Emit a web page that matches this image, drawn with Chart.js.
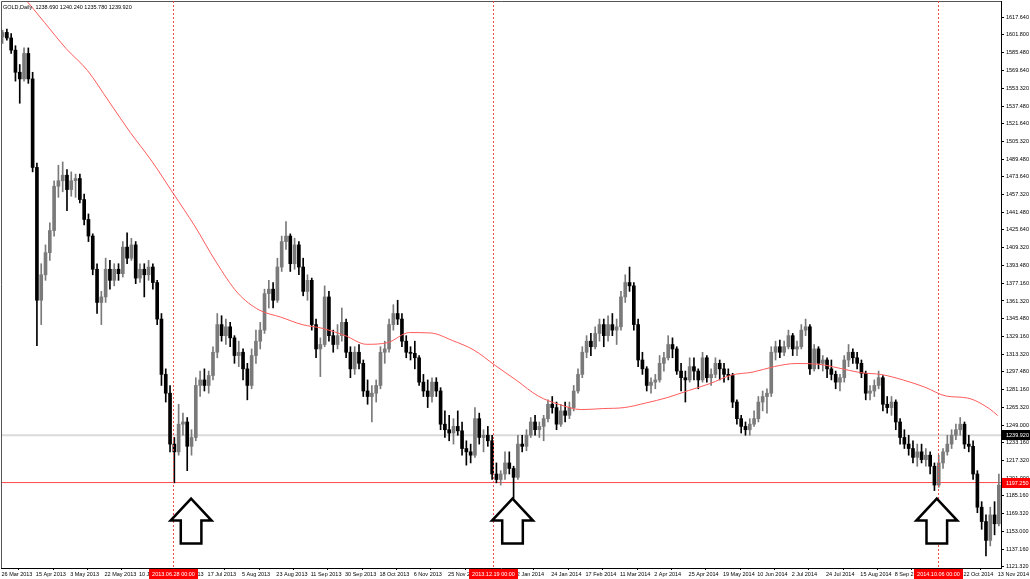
<!DOCTYPE html>
<html>
<head>
<meta charset="utf-8">
<script src="https://cdn.jsdelivr.net/npm/chart.js@4.4.1/dist/chart.umd.min.js"></script>
<style>
  html, body { margin: 0; padding: 0; background: #fff; }
  #wrap { width: 1030px; height: 579px; }
</style>
</head>
<body>
<div id="wrap"><canvas id="chart" width="1030" height="579"></canvas></div>
<script>
// GOLD daily, 26 Mar 2013 - mid Nov 2014. One candle here = two trading days: [open, high, low, close]
const ohlc = [
  [1600,1606,1594,1604], [1604,1607,1597,1599], [1599,1603,1585,1588], [1588,1592,1560,1568],
  [1568,1575,1540,1562], [1562,1590,1560,1585], [1585,1590,1558,1562], [1562,1568,1478,1482],
  [1482,1486,1321,1362], [1362,1395,1340,1385], [1385,1412,1380,1405], [1405,1432,1398,1425],
  [1425,1470,1420,1465], [1465,1484,1455,1470], [1470,1487,1460,1475], [1475,1480,1443,1462],
  [1462,1478,1456,1470], [1470,1476,1455,1472], [1472,1476,1450,1453], [1453,1458,1430,1435],
  [1435,1440,1415,1420], [1420,1422,1385,1390], [1390,1395,1350,1360], [1360,1370,1340,1365],
  [1365,1400,1360,1390], [1390,1398,1372,1380], [1380,1395,1375,1390], [1390,1395,1380,1386],
  [1386,1415,1383,1410], [1410,1423,1395,1400], [1400,1418,1398,1412], [1412,1415,1377,1382],
  [1382,1395,1378,1390], [1390,1395,1365,1385], [1385,1398,1380,1392], [1392,1395,1372,1378],
  [1378,1380,1340,1345], [1345,1350,1285,1295], [1295,1300,1270,1278], [1278,1285,1225,1232],
  [1232,1238,1197,1225], [1225,1268,1222,1250], [1250,1260,1240,1252], [1252,1256,1208,1230],
  [1230,1245,1222,1238], [1238,1292,1235,1285], [1285,1298,1275,1290], [1290,1300,1280,1285],
  [1285,1298,1278,1294], [1294,1320,1290,1315], [1315,1350,1310,1340], [1340,1348,1325,1330],
  [1330,1345,1322,1338], [1338,1342,1320,1328], [1328,1330,1305,1312], [1312,1325,1302,1315],
  [1315,1318,1290,1300], [1300,1305,1272,1285], [1285,1318,1282,1312], [1312,1335,1305,1325],
  [1325,1342,1318,1335], [1335,1372,1332,1368], [1368,1380,1355,1372], [1372,1378,1355,1362],
  [1362,1400,1360,1392], [1392,1420,1388,1415], [1415,1433,1408,1420], [1420,1422,1388,1395],
  [1395,1418,1390,1412], [1412,1415,1385,1392], [1392,1400,1366,1370], [1370,1385,1362,1380],
  [1380,1382,1335,1340], [1340,1345,1310,1318], [1318,1328,1293,1322], [1322,1375,1320,1365],
  [1365,1370,1325,1330], [1330,1335,1315,1322], [1322,1340,1318,1330], [1330,1355,1325,1342],
  [1342,1345,1310,1315], [1315,1320,1292,1300], [1300,1320,1295,1315], [1315,1322,1300,1305],
  [1305,1308,1275,1280], [1280,1290,1268,1275], [1275,1285,1252,1278], [1278,1290,1270,1285],
  [1285,1320,1282,1315], [1315,1325,1305,1318], [1318,1345,1315,1340], [1340,1358,1335,1350],
  [1350,1362,1340,1345], [1345,1350,1320,1325], [1325,1330,1310,1315], [1315,1320,1308,1314],
  [1314,1325,1300,1310], [1310,1312,1285,1288], [1288,1295,1275,1280], [1280,1290,1265,1275],
  [1275,1292,1270,1288], [1288,1292,1275,1280], [1280,1283,1245,1250], [1250,1262,1238,1245],
  [1245,1258,1235,1242], [1242,1255,1232,1248], [1248,1262,1240,1244], [1244,1252,1222,1228],
  [1228,1235,1213,1225], [1225,1232,1215,1222], [1222,1265,1220,1255], [1255,1260,1232,1238],
  [1238,1245,1225,1240], [1240,1248,1230,1235], [1235,1240,1200,1205], [1205,1215,1197,1200],
  [1200,1208,1195,1205], [1205,1225,1200,1215], [1215,1225,1205,1210], [1210,1212,1183,1202],
  [1202,1240,1200,1232], [1232,1240,1225,1230], [1230,1245,1226,1240], [1240,1256,1238,1252],
  [1252,1258,1240,1245], [1245,1252,1238,1248], [1248,1258,1235,1255], [1255,1272,1252,1268],
  [1268,1275,1260,1265], [1265,1270,1245,1250], [1250,1268,1248,1262], [1262,1270,1252,1258],
  [1258,1270,1255,1265], [1265,1285,1262,1280], [1280,1300,1278,1295], [1295,1320,1292,1315],
  [1315,1330,1310,1325], [1325,1332,1312,1320], [1320,1338,1318,1332], [1332,1345,1325,1340],
  [1340,1345,1320,1330], [1330,1348,1325,1340], [1340,1350,1330,1335], [1335,1345,1322,1338],
  [1338,1370,1335,1365], [1365,1385,1360,1378], [1378,1392,1370,1375], [1375,1378,1335,1340],
  [1340,1345,1302,1308], [1308,1315,1295,1300], [1300,1302,1280,1285], [1285,1292,1278,1288],
  [1288,1295,1282,1290], [1290,1312,1288,1305], [1305,1315,1298,1310], [1310,1330,1308,1322],
  [1322,1328,1310,1318], [1318,1320,1295,1298], [1298,1305,1280,1292], [1292,1298,1270,1290],
  [1290,1310,1288,1302], [1302,1310,1290,1298], [1298,1300,1282,1290], [1290,1315,1288,1310],
  [1310,1312,1288,1292], [1292,1300,1285,1295], [1295,1310,1292,1305], [1305,1308,1290,1300],
  [1300,1305,1288,1295], [1295,1300,1290,1294], [1294,1296,1265,1270], [1270,1272,1250,1255],
  [1255,1258,1242,1248], [1248,1252,1240,1245], [1245,1255,1240,1250], [1250,1262,1248,1255],
  [1255,1275,1252,1270], [1270,1280,1262,1275], [1275,1282,1260,1278], [1278,1320,1275,1315],
  [1315,1325,1308,1320], [1320,1326,1310,1315], [1315,1325,1312,1320], [1320,1335,1318,1330],
  [1330,1332,1312,1318], [1318,1325,1312,1320], [1320,1340,1318,1335], [1335,1345,1330,1338],
  [1338,1340,1295,1300], [1300,1322,1298,1318], [1318,1320,1300,1305], [1305,1312,1298,1308],
  [1308,1310,1292,1300], [1300,1308,1290,1295], [1295,1298,1282,1288], [1288,1295,1280,1292],
  [1292,1312,1288,1308], [1308,1322,1302,1315], [1315,1318,1305,1310], [1310,1315,1300,1305],
  [1305,1308,1292,1296], [1296,1298,1272,1278], [1278,1285,1272,1280], [1280,1290,1275,1285],
  [1285,1298,1282,1292], [1292,1294,1262,1268], [1268,1275,1260,1265], [1265,1275,1258,1270],
  [1270,1272,1245,1252], [1252,1255,1232,1238], [1238,1245,1228,1232], [1232,1240,1222,1228],
  [1228,1235,1215,1220], [1220,1232,1212,1225], [1225,1232,1215,1218], [1218,1228,1212,1222],
  [1222,1225,1205,1212], [1212,1215,1190,1195], [1195,1222,1193,1215], [1215,1228,1210,1225],
  [1225,1240,1222,1232], [1232,1245,1228,1240], [1240,1250,1236,1245], [1245,1256,1240,1250],
  [1250,1252,1228,1232], [1232,1240,1225,1230], [1230,1235,1200,1205], [1205,1208,1170,1175],
  [1175,1180,1155,1162], [1162,1168,1131,1145], [1145,1175,1140,1168], [1168,1180,1150,1160],
  [1160,1205,1158,1195]
];

// 200-day moving average, read every 10 daily bars
const maIndex = [0,10,20,30,40,50,60,70,80,90,100,110,120,130,140,150,160,170,180,190,200,210,220,230,
  240,250,260,270,280,290,300,310,320,330,340,350,360,370,380,390,400,410,420,430,440,450,460,464];
const maValues = [1659.2,1636.6,1613.1,1589.6,1569.7,1541.7,1513.6,1487.7,1458.5,1429.1,1396.4,1368.6,
  1353.2,1346.8,1340.0,1336.4,1330.1,1322.2,1323.8,1332.8,1332.4,1325.6,1317.0,1303.0,
  1289.4,1275.4,1267.7,1263.2,1264.1,1265.0,1269.1,1274.0,1280.4,1286.7,1294.4,1297.1,
  1302.1,1304.8,1304.3,1300.7,1296.6,1294.8,1289.9,1283.5,1275.4,1273.6,1264.1,1257.8];

const yTicks = [1617.64,1601.80,1585.48,1569.64,1553.32,1537.48,1521.64,1505.32,1489.48,1473.64,
  1457.32,1441.48,1425.64,1409.32,1393.48,1377.16,1361.32,1345.48,1329.16,1313.32,1297.48,
  1281.16,1265.32,1249.00,1233.16,1217.32,1201.00,1185.16,1169.32,1153.00,1137.16,1121.32];

// one label every 16 daily bars
const xTickLabels = ['26 Mar 2013','15 Apr 2013','3 May 2013','22 May 2013','10 Jun 2013','28 Jun 2013',
  '17 Jul 2013','5 Aug 2013','23 Aug 2013','11 Sep 2013','30 Sep 2013','18 Oct 2013','6 Nov 2013',
  '25 Nov 2013','13 Dec 2013','2 Jan 2014','24 Jan 2014','17 Feb 2014','11 Mar 2014','2 Apr 2014',
  '25 Apr 2014','19 May 2014','10 Jun 2014','2 Jul 2014','24 Jul 2014','15 Aug 2014','8 Sep 2014',
  '30 Sep 2014','22 Oct 2014','13 Nov 2014'];

const markerIndex = [80, 229, 436];
const markerLabels = ['2013.06.28 00:00', '2013.12.19 00:00', '2014.10.06 00:00'];
const arrowIndex = [88.3, 238, 435.6];
const arrowTipPrice = 1182.8;

const supportLevel = 1197.25;
const lastPrice = 1239.92;
const headerTitle = 'GOLD,Daily';
const headerValues = [1238.69, 1240.24, 1235.78, 1239.92];

const FONT = "'Liberation Sans', Arial, sans-serif";
const FONT_SIZE = 5.5;
const UP = '#7a7a7a';
const DOWN = '#000000';

const X_MIN = -0.23, X_MAX = 465.5;
const barX = ohlc.map((_, k) => 2 * k + 0.5);
const barColor = ohlc.map(r => (r[3] >= r[0] ? UP : DOWN));

const overlay = {
  id: 'overlay',
  afterDraw(chart) {
    const { ctx, chartArea: area, scales: { x, y } } = chart;
    ctx.save();

    // frame
    ctx.strokeStyle = '#555';
    ctx.lineWidth = 1;
    ctx.beginPath();
    ctx.moveTo(area.left + 0.5, area.bottom);
    ctx.lineTo(area.left + 0.5, area.top + 0.5);
    ctx.lineTo(area.right, area.top + 0.5);
    ctx.stroke();

    // vertical time markers
    ctx.setLineDash([2, 2]);
    ctx.strokeStyle = '#e85050';
    markerIndex.forEach(i => {
      const px = Math.round(x.getPixelForValue(i)) + 0.5;
      ctx.beginPath();
      ctx.moveTo(px, area.top);
      ctx.lineTo(px, area.bottom);
      ctx.stroke();
    });
    ctx.setLineDash([]);

    // up arrows
    ctx.lineWidth = 2.5;
    ctx.lineJoin = 'miter';
    ctx.strokeStyle = '#000';
    ctx.fillStyle = '#fff';
    arrowIndex.forEach(i => {
      const cx = x.getPixelForValue(i);
      const ty = y.getPixelForValue(arrowTipPrice);
      ctx.beginPath();
      ctx.moveTo(cx, ty);
      ctx.lineTo(cx + 20.5, ty + 22);
      ctx.lineTo(cx + 10.3, ty + 22);
      ctx.lineTo(cx + 10.3, ty + 45);
      ctx.lineTo(cx - 10.3, ty + 45);
      ctx.lineTo(cx - 10.3, ty + 22);
      ctx.lineTo(cx - 20.5, ty + 22);
      ctx.closePath();
      ctx.fill();
      ctx.stroke();
    });

    ctx.font = FONT_SIZE + 'px ' + FONT;
    ctx.textBaseline = 'middle';

    // header
    ctx.fillStyle = '#000';
    ctx.textAlign = 'left';
    ctx.fillText(headerTitle + '  ' + headerValues.map(v => v.toFixed(3)).join(' '), 3, 7);

    // price tags on the right axis
    const tag = (value, bg) => {
      const py = Math.round(y.getPixelForValue(value));
      ctx.fillStyle = bg;
      ctx.fillRect(area.right + 1, py - 5, 29, 10);
      ctx.fillStyle = '#fff';
      ctx.fillText(value.toFixed(3), area.right + 5, py + 0.5);
    };
    tag(lastPrice, '#000');
    tag(supportLevel, '#ff0000');

    // time tags on the bottom axis
    ctx.textAlign = 'center';
    markerIndex.forEach((i, n) => {
      const px = Math.round(x.getPixelForValue(i)) + 0.5;
      const w = ctx.measureText(markerLabels[n]).width + 6;
      ctx.fillStyle = '#ff0000';
      ctx.fillRect(Math.round(px - w / 2), area.bottom + 1, Math.round(w), 10);
      ctx.fillStyle = '#fff';
      ctx.fillText(markerLabels[n], px, area.bottom + 6);
    });
    ctx.restore();
  }
};

new Chart(document.getElementById('chart'), {
  type: 'bar',
  data: {
    datasets: [
      {
        type: 'line', order: 1,
        data: maIndex.map((v, i) => ({ x: v, y: maValues[i] })),
        borderColor: '#ff5a5a', borderWidth: 1, pointRadius: 0,
        cubicInterpolationMode: 'monotone'
      },
      {
        type: 'bar', order: 2,
        data: ohlc.map((r, k) => ({ x: barX[k], y: [r[0], r[3]] })),
        backgroundColor: barColor, borderWidth: 0,
        barThickness: 3, grouped: false, minBarLength: 1
      },
      {
        type: 'bar', order: 3,
        data: ohlc.map((r, k) => ({ x: barX[k], y: [r[2], r[1]] })),
        backgroundColor: barColor, borderWidth: 0,
        barThickness: 1, grouped: false
      },
      {
        type: 'line', order: 4,
        data: [{ x: X_MIN, y: supportLevel }, { x: X_MAX, y: supportLevel }],
        borderColor: '#ff4a4a', borderWidth: 1, pointRadius: 0
      },
      {
        type: 'line', order: 5,
        data: [{ x: X_MIN, y: lastPrice }, { x: X_MAX, y: lastPrice }],
        borderColor: '#dadada', borderWidth: 2, pointRadius: 0
      }
    ]
  },
  options: {
    responsive: false,
    animation: false,
    devicePixelRatio: 1,
    layout: { padding: { left: 1, top: 1, right: 0, bottom: 0 } },
    plugins: { legend: { display: false }, tooltip: { enabled: false } },
    scales: {
      x: {
        type: 'linear', min: X_MIN, max: X_MAX, bounds: 'data', offset: false,
        afterBuildTicks: s => { s.ticks = xTickLabels.map((_, i) => ({ value: i * 16 })); },
        afterFit: s => { s.height = 11; s.paddingLeft = 0; s.paddingRight = 0; },
        grid: { drawOnChartArea: false, tickLength: 2, color: '#000' },
        border: { display: true, color: '#000' },
        ticks: {
          autoSkip: false, maxRotation: 0, minRotation: 0, align: 'start', padding: 1,
          color: '#000', font: { family: FONT, size: FONT_SIZE },
          callback: (v, i) => xTickLabels[i]
        }
      },
      y: {
        position: 'right', min: 1120.05, max: 1632.4, bounds: 'data',
        afterBuildTicks: s => { s.ticks = yTicks.map(v => ({ value: v })); },
        afterFit: s => { s.width = 29; s.paddingTop = 0; s.paddingBottom = 0; },
        grid: { drawOnChartArea: false, tickLength: 3, color: '#000' },
        border: { display: true, color: '#000' },
        ticks: {
          autoSkip: false, padding: 2, color: '#000', font: { family: FONT, size: FONT_SIZE },
          callback: v => v.toFixed(3)
        }
      }
    }
  },
  plugins: [overlay]
});
</script>
</body>
</html>
